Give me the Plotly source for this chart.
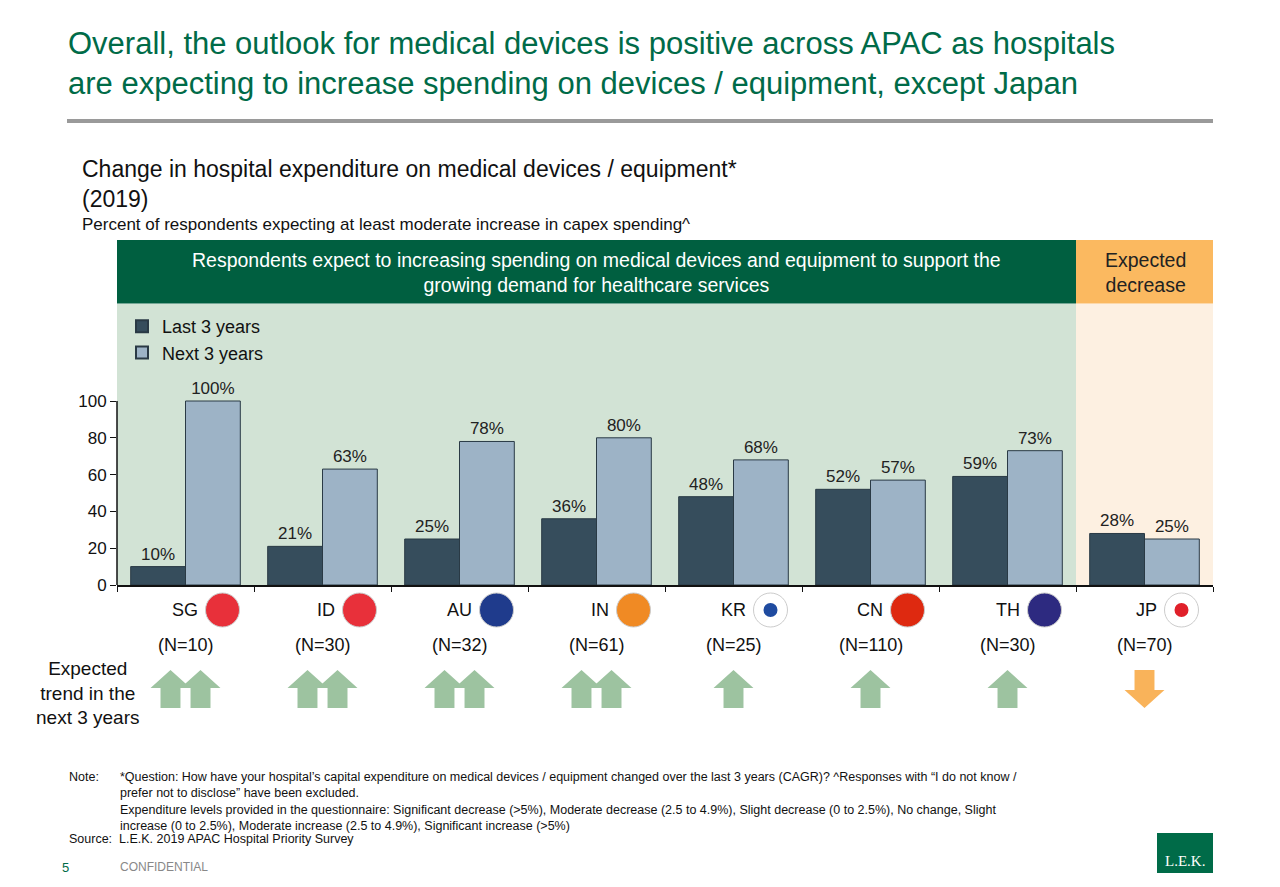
import plotly.graph_objects as go

countries = ["SG", "ID", "AU", "IN", "KR", "CN", "TH", "JP"]
sample_n = ["(N=10)", "(N=30)", "(N=32)", "(N=61)", "(N=25)", "(N=110)", "(N=30)", "(N=70)"]
last_3 = [10, 21, 25, 36, 48, 52, 59, 28]
next_3 = [100, 63, 78, 80, 68, 57, 73, 25]
arrows = ["up2", "up2", "up2", "up2", "up1", "up1", "up1", "down"]
flag_colors = ["#e8303a", "#e8303a", "#1f3b8c", "#f08a24", "#ffffff", "#de2910", "#2d2a80", "#ffffff"]

W, H = 1280, 887
OFF = 8  # page body offset
L, R, T, B = 117, 1213, 240, 585
YMAX = (B - T) / 1.84


def px(x, y):
    return (x - L) / (R - L), (B - y) / (B - T)


fig = go.Figure()
fig.add_bar(x=countries, y=last_3, name="Last 3 years", marker_color="#364d5c",
            marker_line_color="#2a3a45", marker_line_width=1,
            texttemplate="%{y}%", textposition="outside", cliponaxis=False,
            textfont=dict(size=17, color="#222"))
fig.add_bar(x=countries, y=next_3, name="Next 3 years", marker_color="#9db3c6",
            marker_line_color="#2a3a45", marker_line_width=1,
            texttemplate="%{y}%", textposition="outside", cliponaxis=False,
            textfont=dict(size=17, color="#222"))

shapes = [
    dict(type="rect", xref="x", yref="y", x0=-0.5, x1=6.5, y0=0, y1=153, fillcolor="#d2e3d5", line_width=0, layer="below"),
    dict(type="rect", xref="x", yref="y", x0=6.5, x1=7.5, y0=0, y1=153, fillcolor="#fdf0e1", line_width=0, layer="below"),
    dict(type="rect", xref="x", yref="y", x0=-0.5, x1=6.5, y0=153, y1=YMAX, fillcolor="#005f40", line_width=0, layer="below"),
    dict(type="rect", xref="x", yref="y", x0=6.5, x1=7.5, y0=153, y1=YMAX, fillcolor="#fbb960", line_width=0, layer="below"),
]
x0, y0 = px(67, 119); x1, y1 = px(1213, 123)
shapes.append(dict(type="rect", xref="paper", yref="paper", x0=x0, x1=x1, y0=y0, y1=y1, fillcolor="#9a9a9a", line_width=0))

ann = []


def text(x, y, s, size=18, color="#111", xa="center", ya="middle", **kw):
    a, b = px(x, y)
    ann.append(dict(xref="paper", yref="paper", x=a, y=b, text=s, showarrow=False,
                    xanchor=xa, yanchor=ya, font=dict(size=size, color=color), **kw))


def arrow_path(cx, top, up=True):
    hw, sw, hh, bot = 20, 10, 18, 38
    if up:
        pts = [(cx, top), (cx + hw, top + hh), (cx + sw, top + hh), (cx + sw, top + bot),
               (cx - sw, top + bot), (cx - sw, top + hh), (cx - hw, top + hh)]
    else:
        pts = [(cx, top + bot), (cx + hw, top + bot - hh), (cx + sw, top + bot - hh), (cx + sw, top),
               (cx - sw, top), (cx - sw, top + bot - hh), (cx - hw, top + bot - hh)]
    p = [px(a, b) for a, b in pts]
    return "M " + " L ".join(f"{a:.4f},{b:.4f}" for a, b in p) + " Z"


for i, c in enumerate(countries):
    cx = L + 137 * i + 68.5
    text(cx + 14, 610, c, 18, xa="right")
    fx, fy = cx + 37, 610
    a0, b0 = px(fx - 17, fy + 17); a1, b1 = px(fx + 17, fy - 17)
    shapes.append(dict(type="circle", xref="paper", yref="paper", x0=a0, x1=a1, y0=b0, y1=b1,
                       fillcolor=flag_colors[i], line=dict(color="#cccccc", width=1)))
    if c in ("JP", "KR"):
        a0, b0 = px(fx - 7, fy + 7); a1, b1 = px(fx + 7, fy - 7)
        shapes.append(dict(type="circle", xref="paper", yref="paper", x0=a0, x1=a1, y0=b0, y1=b1,
                           fillcolor="#e0202a" if c == "JP" else "#1f4ba0", line_width=0))
    text(cx, 645, sample_n[i], 18)
    kind = arrows[i]
    if kind == "up2":
        for dx in (-15, 15):
            shapes.append(dict(type="path", xref="paper", yref="paper", path=arrow_path(cx + dx, 670),
                               fillcolor="#9dc3a0", line_width=0))
    elif kind == "up1":
        shapes.append(dict(type="path", xref="paper", yref="paper", path=arrow_path(cx, 670),
                           fillcolor="#9dc3a0", line_width=0))
    else:
        shapes.append(dict(type="path", xref="paper", yref="paper", path=arrow_path(cx, 670, up=False),
                           fillcolor="#f9b35a", line_width=0))

text(66, 64, "Overall, the outlook for medical devices is positive across APAC as hospitals<br>are expecting to increase spending on devices / equipment, except Japan",
     31, "#006b48", xa="left", align="left")
text(80, 184, "Change in hospital expenditure on medical devices / equipment*<br>(2019)", 23, xa="left", align="left")
text(80, 224, "Percent of respondents expecting at least moderate increase in capex spending^", 17, xa="left")
text(596, 272, "Respondents expect to increasing spending on medical devices and equipment to support the<br>growing demand for healthcare services", 19.5, "#ffffff")
text(1145, 272, "Expected<br>decrease", 19.5, "#222")
text(88, 693, "Expected<br>trend in the<br>next 3 years", 19)
text(67, 768, "Note:", 12.5, xa="left", ya="top")
text(118, 768, "*Question: How have your hospital’s capital expenditure on medical devices / equipment changed over the last 3 years (CAGR)? ^Responses with “I do not know /<br>prefer not to disclose” have been excluded.<br>Expenditure levels provided in the questionnaire: Significant decrease (>5%), Moderate decrease (2.5 to 4.9%), Slight decrease (0 to 2.5%), No change, Slight<br>increase (0 to 2.5%), Moderate increase (2.5 to 4.9%), Significant increase (>5%)",
     12.5, xa="left", ya="top", align="left")
text(67, 839, "Source:  L.E.K. 2019 APAC Hospital Priority Survey", 12.5, xa="left")
text(60, 867, "5", 13, "#006b48", xa="left")
text(118, 867, "CONFIDENTIAL", 12, "#888", xa="left")
a0, b0 = px(1157, 873); a1, b1 = px(1213, 833)
shapes.append(dict(type="rect", xref="paper", yref="paper", x0=a0, x1=a1, y0=b0, y1=b1, fillcolor="#006b48", line_width=0))
ann.append(dict(xref="paper", yref="paper", x=(a0 + a1) / 2, y=px(0, 861)[1], text="L.E.K.", showarrow=False,
                xanchor="center", yanchor="middle",
                font=dict(size=15, color="#fff", family="Liberation Serif")))

lx, ly = px(122, 308)
fig.update_layout(
    width=W, height=H,
    margin=dict(l=L - OFF, r=W - R + OFF, t=T - OFF, b=H - B + OFF, autoexpand=False),
    paper_bgcolor="white", plot_bgcolor="rgba(0,0,0,0)",
    font=dict(family="Liberation Sans, Arial", color="#111"),
    barmode="group", bargap=0.2, bargroupgap=0,
    showlegend=True,
    legend=dict(x=lx, y=ly, xanchor="left", yanchor="top", bgcolor="rgba(0,0,0,0)",
                font=dict(size=18), itemsizing="constant", tracegroupgap=4),
    shapes=shapes, annotations=ann,
    xaxis=dict(range=[-0.5, 7.5], showticklabels=False, showline=True, linecolor="#111", linewidth=2,
               ticks="outside", tickson="boundaries", ticklen=5, tickcolor="#111", showgrid=False),
    yaxis=dict(range=[0, YMAX], tickvals=[0, 20, 40, 60, 80, 100], showline=False, ticks="outside",
               ticklen=6, tickcolor="#111", showgrid=False, zeroline=False, tickfont=dict(size=17)),
)
fig.add_shape(type="line", xref="paper", yref="y", x0=0, x1=0, y0=0, y1=100, line=dict(color="#111", width=1.5))
fig.write_html("out.html")
